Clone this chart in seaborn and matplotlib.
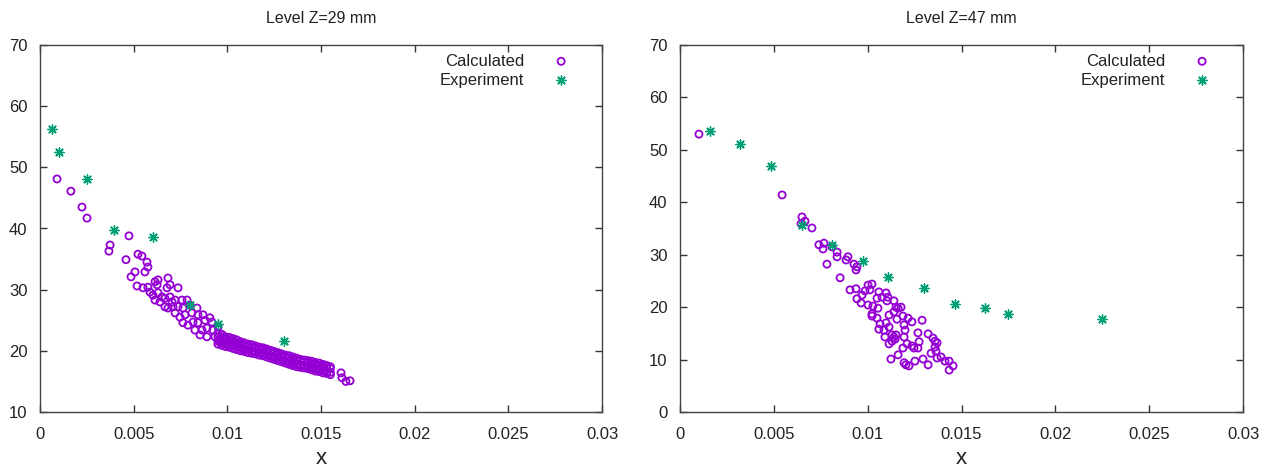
import matplotlib
matplotlib.use("Agg")
import matplotlib.pyplot as plt
from matplotlib.ticker import FuncFormatter, MultipleLocator
import seaborn as sns
import pandas as pd

# ---------------- data : Level Z=29 mm ----------------
exp29_x = [0.00064, 0.00101, 0.00251, 0.00395, 0.00603, 0.0080, 0.0095, 0.0130]
exp29_y = [56.3, 52.5, 48.1, 39.8, 38.6, 27.5, 24.4, 21.6]

calc29_scatter_x = [0.00091, 0.00165, 0.00224, 0.00251, 0.00368, 0.00374, 0.00475, 0.00459,
                    0.00523, 0.00544, 0.00571, 0.00576, 0.00560, 0.00507, 0.00486, 0.00518,
                    0.00550, 0.00576, 0.00614, 0.00630, 0.00625, 0.00683, 0.00694, 0.00678,
                    0.00737, 0.00587, 0.00603, 0.00630, 0.00651, 0.00614, 0.00640, 0.00667,
                    0.00694, 0.00705, 0.00721, 0.00758, 0.00785, 0.00667, 0.00683, 0.00710,
                    0.00737, 0.00763, 0.00800, 0.00838, 0.00721, 0.00747, 0.00774, 0.00811,
                    0.00843, 0.00870, 0.00763, 0.00790, 0.00817, 0.00843, 0.00881, 0.00907,
                    0.00918, 0.00827, 0.00865, 0.00891, 0.00923, 0.00950, 0.00854, 0.00891,
                    0.00934, 0.00971, 0.00987, 0.00961,
                    0.01607, 0.01612, 0.01633, 0.01655]
calc29_scatter_y = [48.1, 46.1, 43.5, 41.7, 36.3, 37.3, 38.8, 34.9,
                    35.8, 35.5, 34.5, 33.7, 32.9, 32.9, 32.1, 30.6,
                    30.3, 30.4, 31.3, 31.6, 30.8, 31.9, 30.8, 30.3,
                    30.3, 29.6, 29.1, 29.5, 28.8, 28.3, 28.0, 28.6,
                    28.8, 28.0, 28.3, 28.3, 28.3, 27.2, 27.0, 27.2,
                    27.2, 27.0, 27.5, 27.0, 26.2, 25.5, 25.9, 26.2,
                    25.9, 25.9, 24.6, 24.2, 24.7, 24.6, 25.0, 25.4,
                    24.7, 23.4, 23.4, 23.7, 23.4, 23.9, 22.6, 22.3,
                    22.3, 22.6, 22.1, 21.6,
                    16.4, 15.6, 15.0, 15.1]

band29_x = [0.0095, 0.0097, 0.0099, 0.0101, 0.0103, 0.0105, 0.0107, 0.0109, 0.0111, 0.0113,
            0.0115, 0.0117, 0.0119, 0.0121, 0.0123, 0.0125, 0.0127, 0.0129, 0.0131, 0.0133,
            0.0135, 0.0137, 0.0139, 0.0141, 0.0143, 0.0145, 0.0147, 0.0149, 0.0151, 0.0153,
            0.0155]
band29_top = [22.9, 22.7, 22.3, 22.2, 22.0, 21.8, 21.5, 21.3, 21.1, 21.0, 20.8, 20.6, 20.5,
              20.3, 20.1, 19.9, 19.7, 19.5, 19.3, 19.2, 19.0, 18.8, 18.6, 18.5, 18.4, 18.3,
              18.1, 18.0, 17.8, 17.6, 17.4]
band29_upper = [22.3, 22.1, 21.9, 21.7, 21.6, 21.3, 21.1, 20.9, 20.8, 20.6, 20.5, 20.3, 20.2,
                20.0, 19.8, 19.6, 19.4, 19.2, 19.0, 18.8, 18.6, 18.4, 18.3, 18.2, 18.1, 17.9,
                17.7, 17.6, 17.4, 17.2, 17.1]
band29_lower = [21.6, 21.4, 21.2, 21.0, 20.9, 20.7, 20.5, 20.3, 20.2, 20.0, 19.9, 19.7, 19.6,
                19.4, 19.2, 19.0, 18.8, 18.6, 18.4, 18.2, 18.0, 17.8, 17.7, 17.6, 17.5, 17.3,
                17.1, 17.0, 16.8, 16.6, 16.5]
band29_bottom = [21.1, 20.9, 20.7, 20.6, 20.4, 20.2, 20.0, 19.9, 19.7, 19.6, 19.5, 19.3, 19.2,
                 19.0, 18.8, 18.6, 18.4, 18.2, 18.0, 17.8, 17.6, 17.4, 17.3, 17.2, 17.1, 16.9,
                 16.7, 16.6, 16.4, 16.3, 16.1]

# ---------------- data : Level Z=47 mm ----------------
exp47_x = [0.0016, 0.0032, 0.00485, 0.0065, 0.0081, 0.00975, 0.0111, 0.0130, 0.01465,
           0.01625, 0.01748, 0.02249]
exp47_y = [53.6, 51.1, 46.9, 35.7, 31.9, 28.8, 25.8, 23.7, 20.6, 19.8, 18.7, 17.7]

calc47_x = [0.00101, 0.00544, 0.00650, 0.00666, 0.00645, 0.00703, 0.00740, 0.00767, 0.00762,
            0.00810, 0.00837, 0.00837, 0.00783, 0.00885, 0.00895, 0.00927, 0.00943, 0.00938,
            0.00853, 0.00906, 0.00938, 0.00943, 0.00965, 0.00986, 0.01002, 0.01023, 0.01012,
            0.00970, 0.01060, 0.01098, 0.01108, 0.01050, 0.01076, 0.01103, 0.01140, 0.01002,
            0.01028, 0.01055, 0.01023, 0.01023, 0.01050, 0.01151, 0.01162, 0.01178, 0.01140,
            0.01114, 0.01156, 0.01188, 0.01215, 0.01236, 0.01290, 0.01098, 0.01066, 0.01114,
            0.01087, 0.01060, 0.01194, 0.01199, 0.01092, 0.01130, 0.01140, 0.01151, 0.01146,
            0.01130, 0.01194, 0.01114, 0.01268, 0.01274, 0.01322, 0.01210, 0.01188, 0.01236,
            0.01247, 0.01268, 0.01348, 0.01359, 0.01370, 0.01359, 0.01364, 0.01338, 0.01162,
            0.01124, 0.01194, 0.01204, 0.01220, 0.01252, 0.01295, 0.01322, 0.01370, 0.01391,
            0.01412, 0.01434, 0.01455, 0.01434]
calc47_y = [53.0, 41.4, 37.2, 36.4, 35.9, 35.1, 31.9, 32.2, 31.1,
            31.5, 30.5, 29.6, 28.2, 29.0, 29.6, 28.2, 27.7, 27.1,
            25.6, 23.3, 23.5, 21.6, 20.8, 23.1, 24.2, 24.4, 23.3,
            22.3, 22.9, 22.7, 21.9, 21.7, 21.9, 21.2, 21.2, 20.4,
            20.2, 19.8, 18.7, 18.3, 17.9, 20.0, 19.8, 20.0, 19.1,
            18.5, 17.7, 18.3, 17.9, 17.2, 17.5, 17.0, 16.8, 16.2,
            15.6, 15.8, 16.6, 15.6, 14.3, 14.7, 14.3, 14.7, 13.9,
            13.5, 14.3, 13.0, 15.1, 13.4, 14.9, 13.0, 12.2, 12.6,
            12.2, 12.2, 14.1, 13.5, 13.2, 12.4, 11.6, 11.2, 10.9,
            10.1, 9.4, 9.0, 8.8, 9.7, 10.1, 9.0, 10.3, 10.5,
            9.7, 9.7, 8.8, 8.0]

titles = ["Level Z=29 mm", "Level Z=47 mm"]
ylims = [(10, 70), (0, 70)]
x_label = "x"
labels = ["Calculated", "Experiment"]

PURPLE = "#9400D3"
GREEN = "#009E73"

sns.set_theme(style="ticks")
plt.rcParams["font.family"] = ["Liberation Sans", "DejaVu Sans"]

fig = plt.figure(figsize=(12.75, 4.73), dpi=100)
ax1 = fig.add_axes([40 / 1275, 1 - 412 / 473, 562 / 1275, 367 / 473])
ax2 = fig.add_axes([680 / 1275, 1 - 412 / 473, 563 / 1275, 367 / 473])

band_x_all = band29_x * 4
band_y_all = band29_top + band29_upper + band29_lower + band29_bottom
calc29 = pd.DataFrame({"x": calc29_scatter_x + band_x_all,
                       "y": calc29_scatter_y + band_y_all})
exp29 = pd.DataFrame({"x": exp29_x, "y": exp29_y})
calc47 = pd.DataFrame({"x": calc47_x, "y": calc47_y})
exp47 = pd.DataFrame({"x": exp47_x, "y": exp47_y})

fmt = FuncFormatter(lambda v, p: "%g" % round(v, 6))

for ax, calc, exp, title, ylim in [(ax1, calc29, exp29, titles[0], ylims[0]),
                                   (ax2, calc47, exp47, titles[1], ylims[1])]:
    sns.scatterplot(data=calc, x="x", y="y", ax=ax, marker="o", s=26,
                    facecolor="none", edgecolor=PURPLE, linewidth=1.3,
                    label=labels[0], zorder=2)
    sns.scatterplot(data=exp, x="x", y="y", ax=ax, marker=(8, 2, 0), s=45,
                    color=GREEN, edgecolor=GREEN, linewidth=1.0,
                    label=labels[1], zorder=3)
    ax.set_xlim(0, 0.03)
    ax.set_ylim(*ylim)
    ax.xaxis.set_major_locator(MultipleLocator(0.005))
    ax.yaxis.set_major_locator(MultipleLocator(10))
    ax.xaxis.set_major_formatter(fmt)
    ax.tick_params(direction="in", top=True, right=True, length=5, width=1,
                   color="#333333", labelsize=12, labelcolor="#222222")
    ax.tick_params(axis="x", pad=11)
    ax.tick_params(axis="y", pad=9)
    for sp in ax.spines.values():
        sp.set_visible(True)
        sp.set_color("#444444")
        sp.set_linewidth(1.0)
    ax.set_title(title, fontsize=11.5, pad=16, color="#222222")
    ax.set_xlabel(x_label, fontsize=16, labelpad=4, color="#222222")
    ax.set_ylabel("")
    ax.grid(False)
    ax.set_facecolor("white")
    leg = ax.legend(loc="upper right", bbox_to_anchor=(0.951, 0.99), frameon=False,
                    markerfirst=False, fontsize=12,
                    handlelength=1.0, handletextpad=1.7, labelspacing=0.25,
                    borderaxespad=0.0, borderpad=0.3)
    for t in leg.get_texts():
        t.set_color("#222222")

fig.savefig("out.png", dpi=100, facecolor="white")
